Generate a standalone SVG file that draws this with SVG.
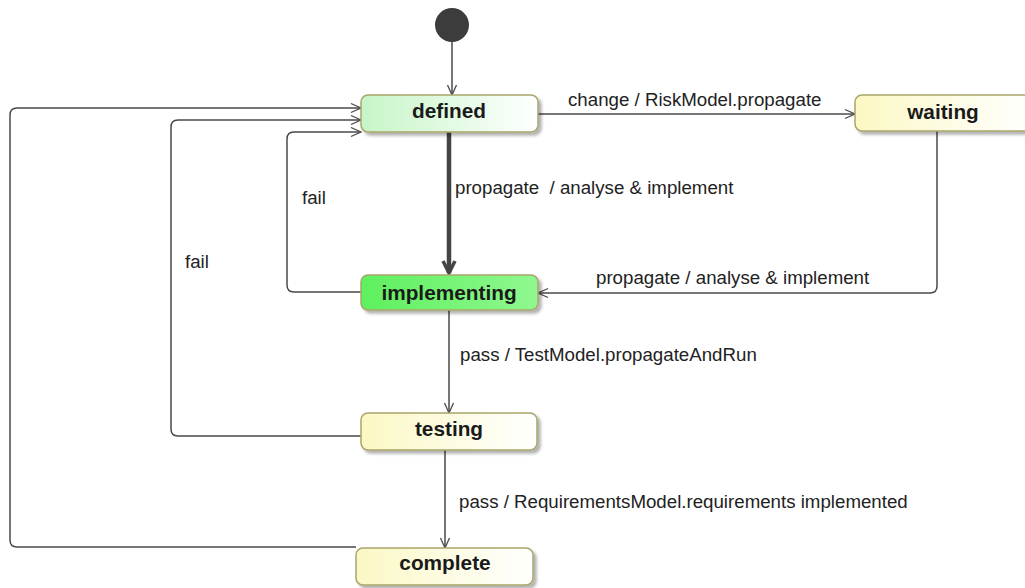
<svg xmlns="http://www.w3.org/2000/svg" width="1025" height="588" viewBox="0 0 1025 588">
  <defs>
    <linearGradient id="gDefined" x1="0" y1="0" x2="1" y2="0">
      <stop offset="0" stop-color="#c6f5c6"/>
      <stop offset="1" stop-color="#ffffff"/>
    </linearGradient>
    <linearGradient id="gActive" x1="0" y1="0" x2="1" y2="0">
      <stop offset="0" stop-color="#5ef05e"/>
      <stop offset="1" stop-color="#8ff88f"/>
    </linearGradient>
    <linearGradient id="gIdle" x1="0" y1="0" x2="1" y2="0">
      <stop offset="0" stop-color="#fbf8c4"/>
      <stop offset="1" stop-color="#ffffff"/>
    </linearGradient>
    <filter id="shadow" x="-5%" y="-20%" width="115%" height="150%">
      <feDropShadow dx="3" dy="3" stdDeviation="1.5" flood-color="#000" flood-opacity="0.3"/>
    </filter>
    <marker id="arrow" viewBox="0 0 12 12" refX="11" refY="6" markerWidth="12" markerHeight="12" markerUnits="userSpaceOnUse" orient="auto">
      <path d="M1,1.5 L11,6 L1,10.5" fill="none" stroke="#4a4a4a" stroke-width="1.3"/>
    </marker>
    <marker id="arrowBold" viewBox="0 0 16 16" refX="14" refY="8" markerWidth="16" markerHeight="16" markerUnits="userSpaceOnUse" orient="auto">
      <path d="M2,2 L14,8 L2,14" fill="none" stroke="#444" stroke-width="3.5" stroke-linejoin="miter"/>
    </marker>
  </defs>
  <style>
    .state { stroke: #a9a56a; stroke-width: 1.5; filter: url(#shadow); }
    .name { font-family: "Liberation Sans", Arial, sans-serif; font-weight: bold; font-size: 20.8px; fill: #1a1a1a; text-anchor: middle; }
    .edge { fill: none; stroke: #4a4a4a; stroke-width: 1.5; marker-end: url(#arrow); }
    .label { font-family: "Liberation Sans", Arial, sans-serif; font-size: 18.7px; fill: #222; }
  </style>

  <rect width="1025" height="588" fill="#ffffff"/>

  <!-- transitions -->
  <g id="connectors">
    <path class="edge" d="M452,42 L452,95"/>
    <path class="edge" d="M538,114 L855,114"/>
    <text class="label" x="568" y="106">change / RiskModel.propagate</text>

    <path d="M449,132 L449,273" fill="none" stroke="#444" stroke-width="4.5" marker-end="url(#arrowBold)"/>
    <text class="label" x="455" y="194" xml:space="preserve">propagate  / analyse &amp; implement</text>

    <path class="edge" d="M937,131 L937,286 Q937,293 930,293 L538,293"/>
    <text class="label" x="596" y="284">propagate / analyse &amp; implement</text>

    <path class="edge" d="M361,292 L294,292 Q287,292 287,285 L287,139 Q287,132 294,132 L361,132"/>
    <text class="label" x="302" y="204">fail</text>

    <path class="edge" d="M361,436 L178,436 Q171,436 171,429 L171,127 Q171,120 178,120 L361,120"/>
    <text class="label" x="185" y="268">fail</text>

    <path class="edge" d="M356,547 L17,547 Q10,547 10,540 L10,115 Q10,108 17,108 L361,108"/>

    <path class="edge" d="M449,310 L449,413"/>
    <text class="label" x="460" y="361">pass / TestModel.propagateAndRun</text>

    <path class="edge" d="M445,450 L445,548"/>
    <text class="label" x="459" y="508">pass / RequirementsModel.requirements implemented</text>
  </g>

  <g id="initial">
    <circle cx="452" cy="25" r="17" fill="#3c3c3c"/>
  </g>

  <g id="defined">
    <rect class="state" x="361" y="95" width="177" height="37" rx="7" fill="url(#gDefined)"/>
    <text class="name" x="449" y="118">defined</text>
  </g>

  <g id="waiting">
    <rect class="state" x="855" y="95" width="177" height="36" rx="7" fill="url(#gIdle)"/>
    <text class="name" x="943" y="119">waiting</text>
  </g>

  <g id="implementing">
    <rect class="state" x="361" y="275" width="177" height="35" rx="7" fill="url(#gActive)"/>
    <text class="name" x="449" y="300">implementing</text>
  </g>

  <g id="testing">
    <rect class="state" x="361" y="413" width="176" height="37" rx="7" fill="url(#gIdle)"/>
    <text class="name" x="449" y="436">testing</text>
  </g>

  <g id="complete">
    <rect class="state" x="356" y="548" width="177" height="37" rx="7" fill="url(#gIdle)"/>
    <text class="name" x="445" y="570">complete</text>
  </g>
</svg>
